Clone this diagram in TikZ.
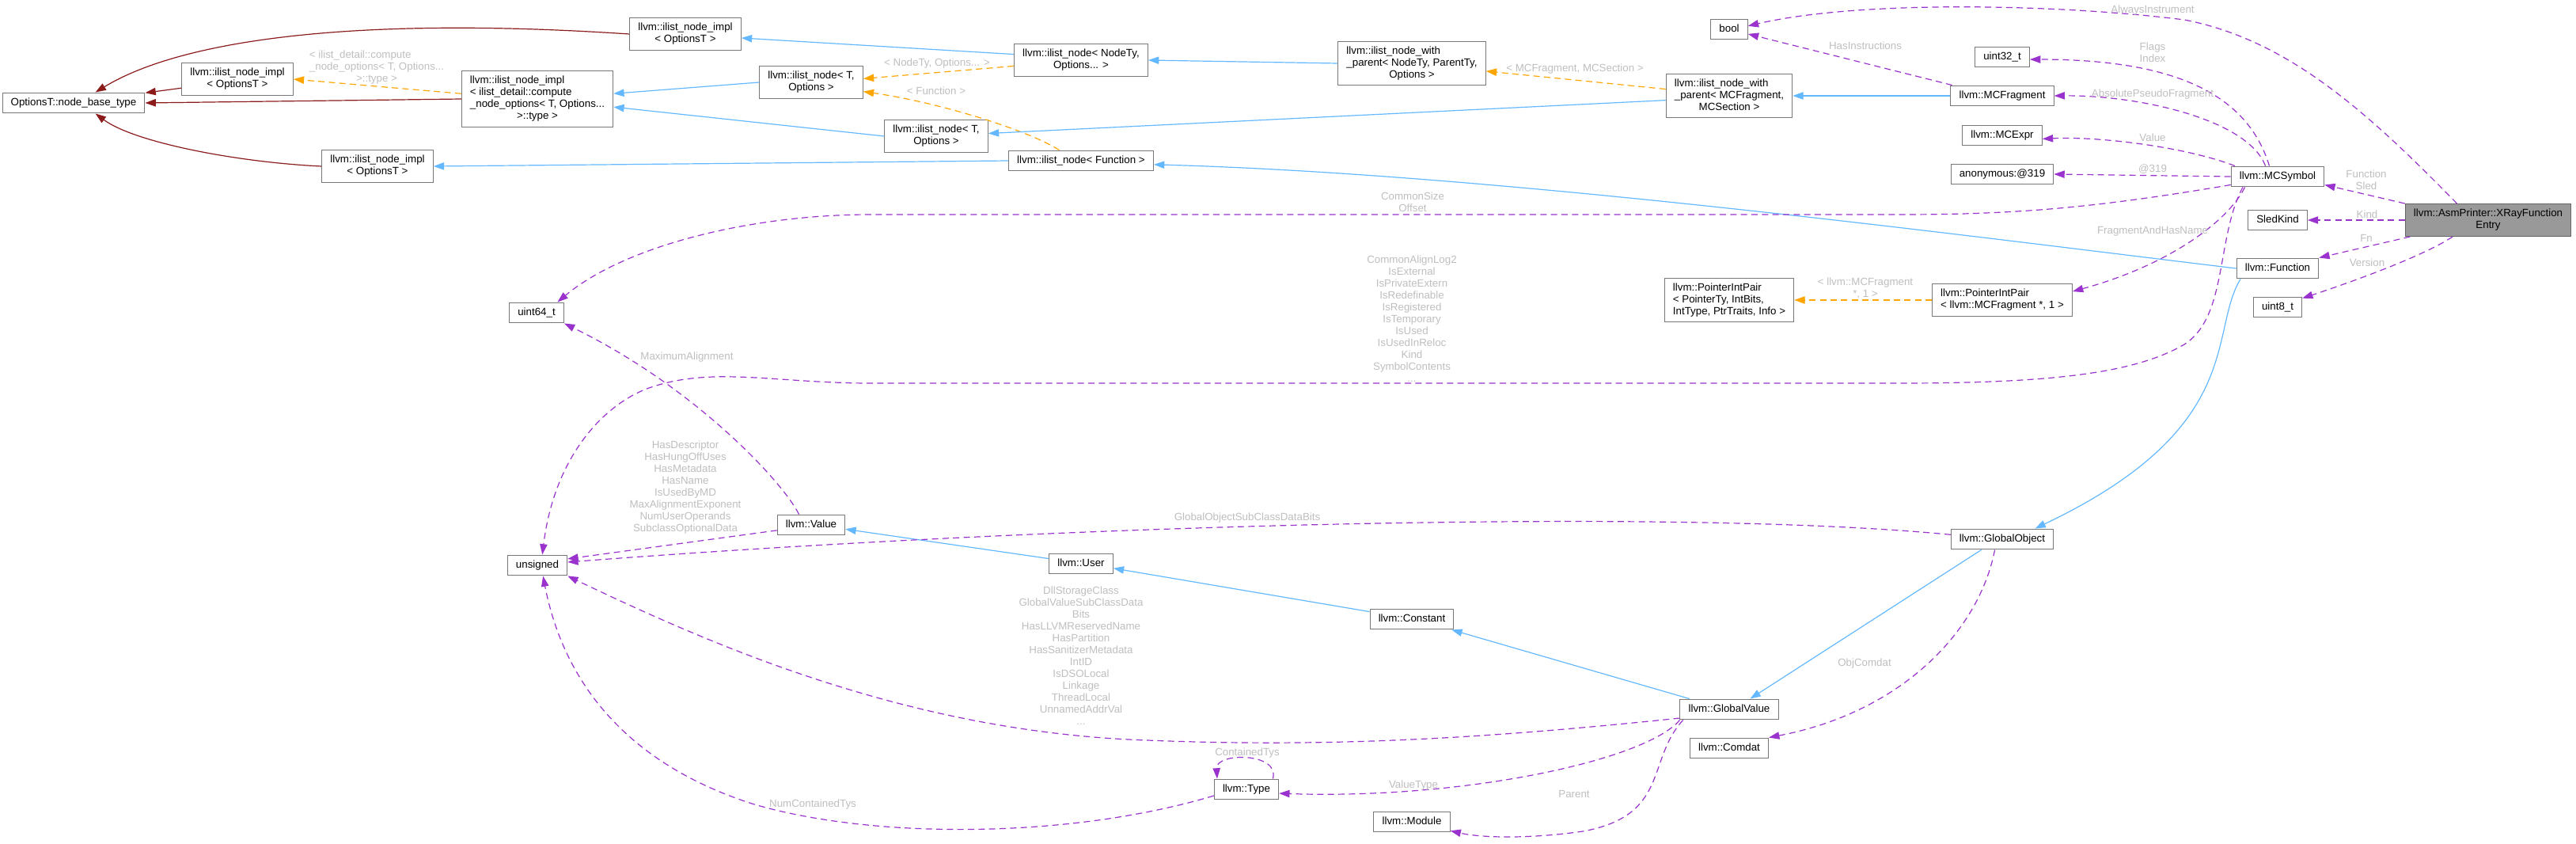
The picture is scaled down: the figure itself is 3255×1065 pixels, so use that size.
\documentclass[tikz,border=0pt]{standalone}
\usepackage{fontspec}
\setmainfont{Liberation Sans}
\usetikzlibrary{arrows.meta}
\definecolor{inhblue}{HTML}{63B8FF}
\definecolor{protred}{HTML}{8B1A1A}
\definecolor{tmplorange}{HTML}{FFA500}
\definecolor{usepurple}{HTML}{9A32CD}
\definecolor{labgray}{HTML}{BEBEBE}
\definecolor{boxgray}{HTML}{777777}
\definecolor{rootgray}{HTML}{999999}
\definecolor{rootedge}{HTML}{666666}
% class box text: left lines, last line centred
\newcommand{\ml}[1]{\begin{tabular}{@{}l@{}}#1\end{tabular}}
\newcommand{\mc}[1]{\multicolumn{1}{@{}c@{}}{#1}}

\begin{document}
\begin{tikzpicture}[x=0.75pt, y=-0.75pt,
    cls/.style={draw=boxgray, fill=white, line width=0.75pt, inner xsep=8pt, inner ysep=4.1pt,
      font=\fontsize{10}{11.25}\selectfont},
    rootcls/.style={cls, fill=rootgray, draw=rootedge},
    lab/.style={text=labgray, font=\fontsize{10}{11.25}\selectfont, align=center, inner sep=0pt},
    arr/.style={-{Triangle[length=10pt,width=7pt]}, line width=0.9pt},
    pub/.style={arr, draw=inhblue},
    prot/.style={arr, draw=protred},
    tmpl/.style={arr, draw=tmplorange, dash pattern=on 6pt off 4pt},
    usage/.style={arr, draw=usepurple, dash pattern=on 6pt off 4pt}]
  \useasboundingbox (0,0) rectangle (3255,1065);

  % ilist base classes
  \node[cls] (onb)    at (93,130)  {\ml{OptionsT::node\_base\_type}};
  \node[cls] (implA)  at (300,100) {\ml{llvm::ilist\_node\_impl\\\mc{< OptionsT >}}};
  \node[cls] (implB)  at (477,210) {\ml{llvm::ilist\_node\_impl\\\mc{< OptionsT >}}};
  \node[cls] (implC)  at (679,125) {\ml{llvm::ilist\_node\_impl\\< ilist\_detail::compute\\\_node\_options< T, Options...\\\mc{>::type >}}};
  \node[cls] (implT)  at (866,43)  {\ml{llvm::ilist\_node\_impl\\\mc{< OptionsT >}}};
  \node[cls] (nodeT)  at (1025,104) {\ml{llvm::ilist\_node< T,\\\mc{Options >}}};
  \node[cls] (nodeNT) at (1366,76) {\ml{llvm::ilist\_node< NodeTy,\\\mc{Options... >}}};
  \node[cls] (nodeT2) at (1183,172) {\ml{llvm::ilist\_node< T,\\\mc{Options >}}};
  \node[cls] (nodeFn) at (1366,203) {\ml{llvm::ilist\_node< Function >}};
  \node[cls] (nwpGen) at (1784,80) {\ml{llvm::ilist\_node\_with\\\_parent< NodeTy, ParentTy,\\\mc{Options >}}};
  \node[cls] (nwpFrag) at (2185,121) {\ml{llvm::ilist\_node\_with\\\_parent< MCFragment,\\\mc{MCSection >}}};

  % MC members
  \node[cls] (bool)    at (2185,37)  {\ml{bool}};
  \node[cls] (u32)     at (2530,72)  {\ml{uint32\_t}};
  \node[cls] (mcfrag)  at (2530,121) {\ml{llvm::MCFragment}};
  \node[cls] (mcexpr)  at (2530,171) {\ml{llvm::MCExpr}};
  \node[cls] (anon)    at (2530,220) {\ml{anonymous:@319}};
  \node[cls] (mcsym)   at (2878,223) {\ml{llvm::MCSymbol}};
  \node[cls] (sled)    at (2878,278) {\ml{SledKind}};
  \node[cls] (func)    at (2878,339) {\ml{llvm::Function}};
  \node[cls] (u8)      at (2878,388) {\ml{uint8\_t}};
  \node[rootcls] (xray) at (3144,278) {\ml{llvm::AsmPrinter::XRayFunction\\\mc{Entry}}};
  \node[cls] (pipFrag) at (2530,379) {\ml{llvm::PointerIntPair\\\mc{< llvm::MCFragment *, 1 >}}};
  \node[cls] (pipGen)  at (2185,379) {\ml{llvm::PointerIntPair\\< PointerTy, IntBits,\\\mc{IntType, PtrTraits, Info >}}};

  % IR classes
  \node[cls] (u64)    at (678,395)  {\ml{uint64\_t}};
  \node[cls] (unsig)  at (679,714)  {\ml{unsigned}};
  \node[cls] (value)  at (1025,663) {\ml{llvm::Value}};
  \node[cls] (user)   at (1366,712) {\ml{llvm::User}};
  \node[cls] (gobj)   at (2530,681) {\ml{llvm::GlobalObject}};
  \node[cls] (const)  at (1784,782) {\ml{llvm::Constant}};
  \node[cls] (gval)   at (2185,896) {\ml{llvm::GlobalValue}};
  \node[cls] (comdat) at (2185,945) {\ml{llvm::Comdat}};
  \node[cls] (type)   at (1575,997) {\ml{llvm::Type}};
  \node[cls] (module) at (1784,1038) {\ml{llvm::Module}};

  % inheritance
  \draw[prot] (implT.west) .. controls (450,20) and (230,50) .. (onb.26);
  \draw[prot] (implA.189) -- (onb.8);
  \draw[prot] (implC.west) -- (onb.east);
  \draw[prot] (implB.west) .. controls (300,205) and (170,180) .. (onb.-26);
  \draw[tmpl] (implC.176) -- (implA.east);
  \draw[pub] (nodeT.west) -- (implC.4);
  \draw[pub] (nodeT2.west) -- (implC.-6);
  \draw[pub] (nodeNT.175) -- (implT.-4);
  \draw[tmpl] (nodeNT.185) -- (nodeT.4);
  \draw[tmpl] (nodeFn.154) .. controls (1300,165) and (1190,130) .. (nodeT.-10);
  \draw[pub] (nodeFn.west) -- (implB.east);
  \draw[pub] (nwpGen.west) -- (nodeNT.east);
  \draw[tmpl] (nwpFrag.174) -- (nwpGen.-6);
  \draw[pub] (nwpFrag.184) -- (nodeT2.3);
  \draw[pub] (mcfrag.west) -- (nwpFrag.east);
  \draw[pub] (func.west) .. controls (2500,300) and (1900,220) .. (nodeFn.-3);
  \draw[pub] (func.196) .. controls (2790,420) and (2840,540) .. (gobj.18);
  \draw[pub] (gobj.207) -- (gval.27);
  \draw[pub] (gval.165) -- (const.-15);
  \draw[pub] (const.170) -- (user.-8);
  \draw[pub] (user.171) -- (value.-7);
  \draw[tmpl] (pipFrag.west) -- (pipGen.east);

  % members
  \draw[usage] (xray.152) .. controls (2990,140) and (2890,50) .. (2760,25)
    .. controls (2600,5) and (2350,0) .. (bool.10);
  \draw[usage] (mcfrag.168) -- (bool.-14);
  \draw[usage] (mcsym.128) .. controls (2840,120) and (2750,75) .. (u32.-5);
  \draw[usage] (mcsym.139) .. controls (2840,150) and (2700,120) .. (mcfrag.east);
  \draw[usage] (mcsym.166) .. controls (2760,185) and (2650,172) .. (mcexpr.-5);
  \draw[usage] (mcsym.west) -- (anon.east);
  \draw[usage] (xray.north west) -- (mcsym.-10);
  \draw[usage] (xray.west) -- (sled.east);
  \draw[usage] (xray.192) -- (func.north east);
  \draw[usage] (xray.205) .. controls (3060,325) and (2960,360) .. (u8.20);
  \draw[usage] (mcsym.198) .. controls (2815,280) and (2740,335) .. (pipFrag.7);
  \draw[usage] (mcsym.190) .. controls (2650,262) and (2550,271) .. (2400,271) -- (1100,271)
    .. controls (950,271) and (790,310) .. (u64.27);
  \draw[usage] (mcsym.197) .. controls (2800,300) and (2815,400) .. (2760,435)
    .. controls (2700,470) and (2600,484) .. (2400,484) -- (1100,484)
    .. controls (980,484) and (900,462) .. (820,490)
    .. controls (760,512) and (700,580) .. (unsig.65);
  \draw[usage] (value.139) .. controls (990,610) and (880,490) .. (u64.south east);
  \draw[usage] (value.189) -- (unsig.12);
  \draw[usage] (gobj.175) .. controls (2100,640) and (1300,665) .. (unsig.6);
  \draw[usage] (gval.190) .. controls (1900,930) and (1700,945) .. (1450,935)
    .. controls (1150,925) and (900,815) .. (unsig.south east);
  \draw[usage] (type.191) .. controls (1350,1060) and (1100,1060) .. (950,1015)
    .. controls (780,960) and (710,850) .. (unsig.-62);
  \draw[usage] (type.22) .. controls (1618,950) and (1536,950) .. (type.160);
  \draw[usage] (gval.south west) .. controls (2080,960) and (1850,1010) .. (type.-7);
  \draw[usage] (gval.193) .. controls (2080,960) and (2110,1030) .. (2000,1050)
    .. controls (1930,1060) and (1870,1058) .. (module.-13);
  \draw[usage] (gobj.235) .. controls (2500,800) and (2400,900) .. (comdat.north east);

  % edge labels
  \node[lab] (lTmplImpl) at (476,85) {\ml{< ilist\_detail::compute\\\_node\_options< T, Options...\\\mc{>::type >}}};
  \node[lab] (lNodeTy)   at (1184,80)  {< NodeTy, Options... >};
  \node[lab] (lFunction) at (1183,115) {< Function >};
  \node[lab] (lMCFrag)   at (1990,87)  {< MCFragment, MCSection >};
  \node[lab] (lHasInstr) at (2357,58)  {HasInstructions};
  \node[lab] (lAlways)   at (2720,13)  {AlwaysInstrument};
  \node[lab] (lFlags)    at (2720,66)  {Flags\\Index};
  \node[lab] (lAbsPseudo) at (2720,119) {AbsolutePseudoFragment};
  \node[lab] (lValue)    at (2720,174) {Value};
  \node[lab] (l319)      at (2720,214) {@319};
  \node[lab] (lFnSled)   at (2990,227) {Function\\Sled};
  \node[lab] (lKind)     at (2991,271) {Kind};
  \node[lab] (lFn)       at (2990,301) {Fn};
  \node[lab] (lVersion)  at (2991,332) {Version};
  \node[lab] (lFragName) at (2720,292) {FragmentAndHasName};
  \node[lab] (lPIP)      at (2357,364) {< llvm::MCFragment\\{}*, 1 >};
  \node[lab] (lCommon)   at (1785,255) {CommonSize\\Offset};
  \node[lab] (lSymBits)  at (1784,403) {CommonAlignLog2\\IsExternal\\IsPrivateExtern\\IsRedefinable\\IsRegistered\\IsTemporary\\IsUsed\\IsUsedInReloc\\Kind\\SymbolContents\\...};
  \node[lab] (lMaxAlign) at (868,451)  {MaximumAlignment};
  \node[lab] (lValueBits) at (866,616) {HasDescriptor\\HasHungOffUses\\HasMetadata\\HasName\\IsUsedByMD\\MaxAlignmentExponent\\NumUserOperands\\SubclassOptionalData};
  \node[lab] (lGOBits)   at (1576,654) {GlobalObjectSubClassDataBits};
  \node[lab] (lGVBits)   at (1366,828) {DllStorageClass\\GlobalValueSubClassData\\Bits\\HasLLVMReservedName\\HasPartition\\HasSanitizerMetadata\\IntID\\IsDSOLocal\\Linkage\\ThreadLocal\\UnnamedAddrVal\\...};
  \node[lab] (lObjComdat) at (2356,838) {ObjComdat};
  \node[lab] (lContained) at (1576,951) {ContainedTys};
  \node[lab] (lValueType) at (1786,992) {ValueType};
  \node[lab] (lParent)   at (1989,1003) {Parent};
  \node[lab] (lNumCT)    at (1027,1016) {NumContainedTys};
\end{tikzpicture}
\end{document}
